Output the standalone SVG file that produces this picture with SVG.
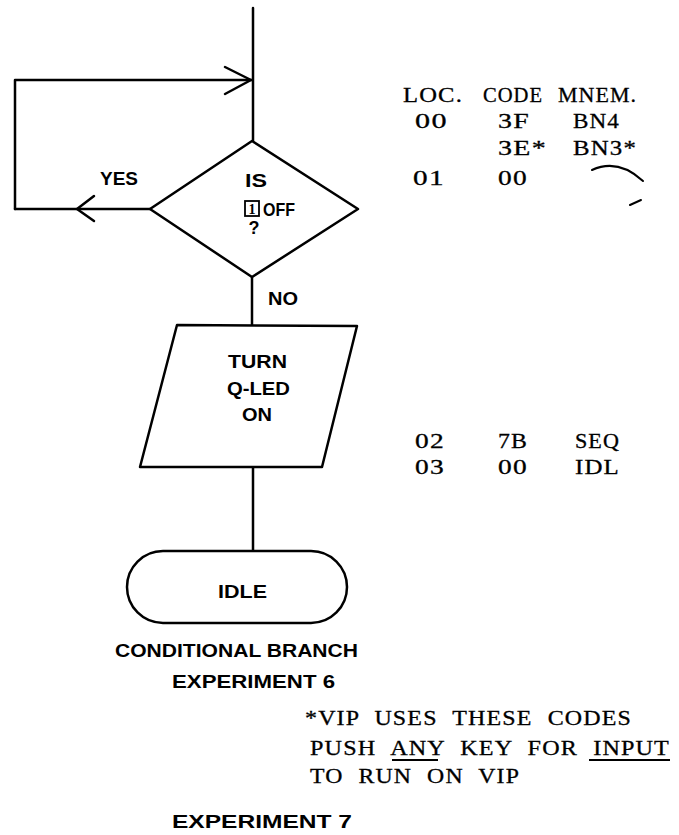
<svg xmlns="http://www.w3.org/2000/svg" width="679" height="835" viewBox="0 0 679 835">
<style>
.ln{fill:none;stroke:#000;stroke-width:2.5;stroke-linecap:round;stroke-linejoin:round}
.sh{fill:#fff;stroke:#000;stroke-width:2.5;stroke-linejoin:round}
.lb{font-family:"Liberation Sans",Arial,sans-serif;font-weight:bold;font-size:18px;fill:#000}
.tw{font-family:"Liberation Serif","Times New Roman",serif;font-size:21px;fill:#000;stroke:#000;stroke-width:0.3;letter-spacing:1px;word-spacing:7px}
.mk{fill:none;stroke:#000;stroke-width:2;stroke-linecap:round}
</style>
<rect width="679" height="835" fill="#fff"/>
<g id="connectors">
<path class="ln" d="M253,8 V141"/>
<path class="ln" d="M15,209 V80 H252"/>
<path class="ln" d="M225,67 L251,80 L225,94"/>
<path class="ln" d="M150,209 H15"/>
<path class="ln" d="M94,196 L77,209 L94,221"/>
<path class="ln" d="M252,277 V325"/>
<path class="ln" d="M253,467 V551"/>
</g>
<g id="decision">
<polygon class="sh" points="252,141 358,209 252,277 150,209"/>
<text class="lb" x="256" y="187" text-anchor="middle" textLength="22" lengthAdjust="spacingAndGlyphs">IS</text>
<rect x="245" y="201" width="14" height="15" fill="none" stroke="#000" stroke-width="1.8"/>
<text x="252" y="214" text-anchor="middle" style="font-family:'Liberation Serif',serif;font-weight:bold;font-size:14px">1</text>
<text class="lb" x="263" y="216" textLength="32" lengthAdjust="spacingAndGlyphs">OFF</text>
<text class="lb" x="254" y="234" text-anchor="middle">?</text>
</g>
<g id="label-yes"><text class="lb" x="100" y="185" textLength="38" lengthAdjust="spacingAndGlyphs">YES</text></g>
<g id="label-no"><text class="lb" x="268" y="305" textLength="30" lengthAdjust="spacingAndGlyphs">NO</text></g>
<g id="process">
<polygon class="sh" points="177,325 357,326 322,467 140,467"/>
<text class="lb" x="228" y="368" textLength="59" lengthAdjust="spacingAndGlyphs">TURN</text>
<text class="lb" x="227" y="395" textLength="63" lengthAdjust="spacingAndGlyphs">Q-LED</text>
<text class="lb" x="242" y="421" textLength="30" lengthAdjust="spacingAndGlyphs">ON</text>
</g>
<g id="terminator">
<rect class="sh" x="127" y="551" width="220" height="72" rx="36" ry="36"/>
<text class="lb" x="218" y="598" textLength="49" lengthAdjust="spacingAndGlyphs">IDLE</text>
</g>
<g id="table">
<text class="tw" x="403" y="102" textLength="60" lengthAdjust="spacingAndGlyphs">LOC.</text>
<text class="tw" x="483" y="102" textLength="60" lengthAdjust="spacingAndGlyphs">CODE</text>
<text class="tw" x="558" y="102" textLength="79" lengthAdjust="spacingAndGlyphs">MNEM.</text>
<text class="tw" x="415" y="128" textLength="33" lengthAdjust="spacingAndGlyphs">00</text>
<text class="tw" x="498" y="128" textLength="32" lengthAdjust="spacingAndGlyphs">3F</text>
<text class="tw" x="573" y="128" textLength="47" lengthAdjust="spacingAndGlyphs">BN4</text>
<text class="tw" x="498" y="155" textLength="49" lengthAdjust="spacingAndGlyphs">3E*</text>
<text class="tw" x="573" y="155" textLength="64" lengthAdjust="spacingAndGlyphs">BN3*</text>
<text class="tw" x="413" y="185" textLength="32" lengthAdjust="spacingAndGlyphs">01</text>
<text class="tw" x="498" y="185" textLength="30" lengthAdjust="spacingAndGlyphs">00</text>
<text class="tw" x="415" y="448" textLength="30" lengthAdjust="spacingAndGlyphs">02</text>
<text class="tw" x="498" y="448" textLength="30" lengthAdjust="spacingAndGlyphs">7B</text>
<text class="tw" x="575" y="448" textLength="45" lengthAdjust="spacingAndGlyphs">SEQ</text>
<text class="tw" x="415" y="474" textLength="30" lengthAdjust="spacingAndGlyphs">03</text>
<text class="tw" x="498" y="474" textLength="30" lengthAdjust="spacingAndGlyphs">00</text>
<text class="tw" x="575" y="474" textLength="45" lengthAdjust="spacingAndGlyphs">IDL</text>
<path class="mk" d="M592,170 Q618,158 643,181"/>
<path class="mk" d="M630,205 L641,200"/>
</g>
<g id="captions">
<text class="lb" x="115" y="657" font-size="20" textLength="243" lengthAdjust="spacingAndGlyphs">CONDITIONAL BRANCH</text>
<text class="lb" x="172" y="688" font-size="20" textLength="163" lengthAdjust="spacingAndGlyphs">EXPERIMENT 6</text>
<text class="lb" x="172" y="828" font-size="21" textLength="180" lengthAdjust="spacingAndGlyphs">EXPERIMENT 7</text>
</g>
<g id="note">
<text class="tw" x="305" y="725" font-size="22" textLength="327" lengthAdjust="spacingAndGlyphs">*VIP USES THESE CODES</text>
<text class="tw" x="310" y="755" font-size="22" textLength="360" lengthAdjust="spacingAndGlyphs">PUSH ANY KEY FOR INPUT</text>
<text class="tw" x="310" y="783" font-size="22" textLength="210" lengthAdjust="spacingAndGlyphs">TO RUN ON VIP</text>
<path d="M392,760 H438 M589,760 H670" stroke="#000" stroke-width="2"/>
</g>
</svg>
